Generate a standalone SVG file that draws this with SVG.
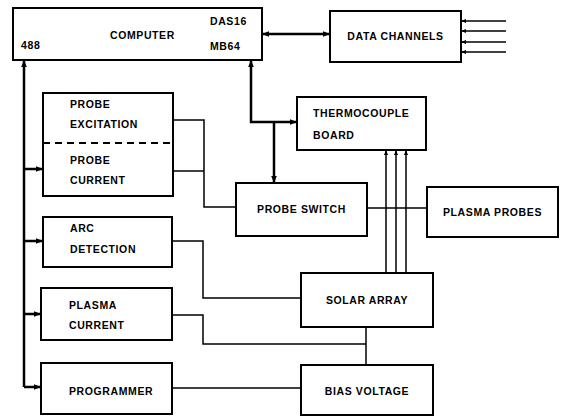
<svg xmlns="http://www.w3.org/2000/svg" width="567" height="419" viewBox="0 0 567 419">
<style>
.box{fill:#fff;stroke:#000;stroke-width:2}
.t{font-family:"Liberation Sans",Arial,sans-serif;font-weight:bold;font-size:10.5px;letter-spacing:0.6px;fill:#000}
.thick{fill:none;stroke:#000;stroke-width:2.5}
.thin{fill:none;stroke:#000;stroke-width:1.5}
</style>
<defs>
<marker id="ah" viewBox="0 0 10 10" refX="10" refY="5" markerWidth="7" markerHeight="7" markerUnits="userSpaceOnUse" orient="auto-start-reverse">
<path d="M0,1 L10,5 L0,9 Z" fill="#000"/>
</marker>
<marker id="as" viewBox="0 0 10 10" refX="10" refY="5" markerWidth="5" markerHeight="5" markerUnits="userSpaceOnUse" orient="auto-start-reverse">
<path d="M0,1 L10,5 L0,9 Z" fill="#000"/>
</marker>
</defs>
<g id="connectors">
<path class="thick" d="M262,34 L330,34" marker-start="url(#ah)" marker-end="url(#ah)"/>
<path class="thin" d="M461,21 L506,21" marker-start="url(#as)"/>
<path class="thin" d="M461,31 L506,31" marker-start="url(#as)"/>
<path class="thin" d="M461,42 L506,42" marker-start="url(#as)"/>
<path class="thin" d="M461,52 L506,52" marker-start="url(#as)"/>
<path class="thick" d="M24,60 L24,387" marker-start="url(#ah)"/>
<path class="thick" d="M24,169 L43,169" marker-end="url(#ah)"/>
<path class="thick" d="M24,241 L43,241" marker-end="url(#ah)"/>
<path class="thick" d="M24,314 L41,314" marker-end="url(#ah)"/>
<path class="thick" d="M24,387 L41,387" marker-end="url(#ah)"/>
<path class="thick" d="M251,60 L251,122 L297,122" marker-start="url(#ah)" marker-end="url(#ah)"/>
<path class="thick" d="M274,122 L274,183" marker-end="url(#ah)"/>
<path class="thin" d="M173,120 L204,120 L204,207 L236,207"/>
<path class="thin" d="M173,171 L204,171"/>
<path class="thin" d="M367,208 L427,208"/>
<path class="thin" d="M386,273 L386,150" marker-end="url(#as)"/>
<path class="thin" d="M396,273 L396,150" marker-end="url(#as)"/>
<path class="thin" d="M406,273 L406,150" marker-end="url(#as)"/>
<path class="thin" d="M172,241 L203,241 L203,298 L301,298"/>
<path class="thin" d="M172,315 L203,315 L203,344 L366,344"/>
<path class="thin" d="M366,327 L366,365"/>
<path class="thin" d="M172,388 L301,388"/>
</g>
<g id="computer">
<rect class="box" x="13" y="8" width="249" height="52"/>
<text class="t" x="110" y="39">COMPUTER</text>
<text class="t" x="210" y="25">DAS16</text>
<text class="t" x="210" y="50">MB64</text>
<text class="t" x="21" y="49">488</text>
</g>
<g id="data-channels">
<rect class="box" x="330" y="11" width="131" height="51"/>
<text class="t" x="395.5" y="40" text-anchor="middle">DATA CHANNELS</text>
</g>
<g id="thermocouple">
<rect class="box" x="297" y="97" width="129" height="53"/>
<text class="t" x="313" y="117">THERMOCOUPLE</text>
<text class="t" x="313" y="139">BOARD</text>
</g>
<g id="probe-excitation-current">
<rect class="box" x="43" y="93" width="130" height="103"/>
<line x1="43" y1="143" x2="173" y2="143" stroke="#000" stroke-width="1.8" stroke-dasharray="7,5"/>
<text class="t" x="70" y="108">PROBE</text>
<text class="t" x="70" y="128">EXCITATION</text>
<text class="t" x="70" y="164">PROBE</text>
<text class="t" x="70" y="184">CURRENT</text>
</g>
<g id="probe-switch">
<rect class="box" x="236" y="183" width="131" height="53"/>
<text class="t" x="301.5" y="213" text-anchor="middle">PROBE SWITCH</text>
</g>
<g id="plasma-probes">
<rect class="box" x="427" y="187" width="131" height="50"/>
<text class="t" x="492.5" y="216" text-anchor="middle">PLASMA PROBES</text>
</g>
<g id="arc-detection">
<rect class="box" x="43" y="217" width="129" height="50"/>
<text class="t" x="70" y="232">ARC</text>
<text class="t" x="70" y="253">DETECTION</text>
</g>
<g id="solar-array">
<rect class="box" x="301" y="273" width="132" height="54"/>
<text class="t" x="367" y="304" text-anchor="middle">SOLAR ARRAY</text>
</g>
<g id="plasma-current">
<rect class="box" x="41" y="288" width="131" height="52"/>
<text class="t" x="69" y="309">PLASMA</text>
<text class="t" x="69" y="329">CURRENT</text>
</g>
<g id="programmer">
<rect class="box" x="41" y="363" width="131" height="51"/>
<text class="t" x="69" y="395">PROGRAMMER</text>
</g>
<g id="bias-voltage">
<rect class="box" x="301" y="365" width="132" height="50"/>
<text class="t" x="367" y="395" text-anchor="middle">BIAS VOLTAGE</text>
</g>
</svg>
